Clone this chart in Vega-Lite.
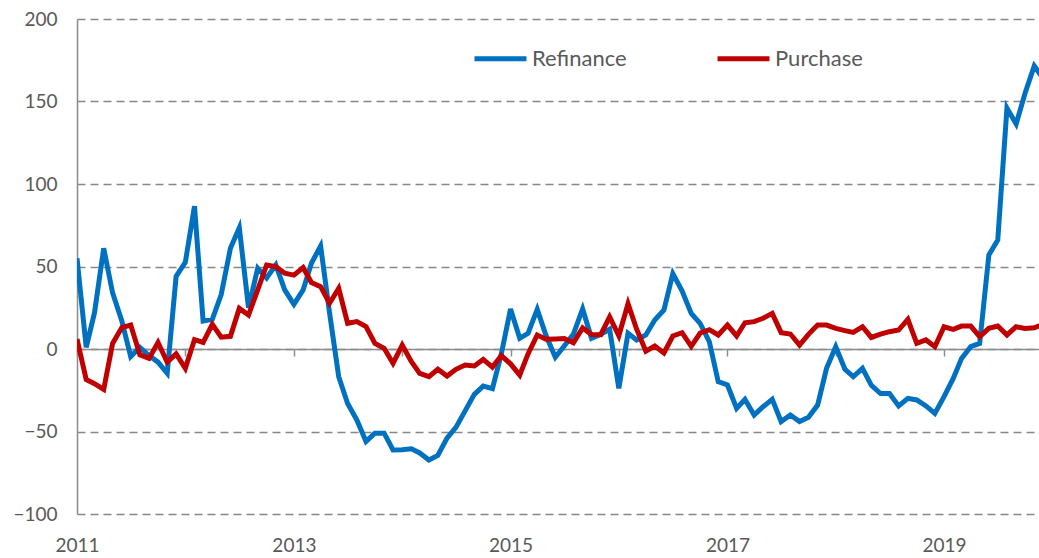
{
  "$schema": "https://vega.github.io/schema/vega-lite/v6.json",
  "width": 962,
  "height": 495,
  "autosize": {"type": "none"},
  "padding": {"left": 77, "top": 19, "right": 0, "bottom": 44},
  "background": "white",
  "config": {"view": {"stroke": null}, "font": "Lato"},
  "data": {"values": [
    {"date": "2011-01-01", "Refinance": 55, "Purchase": 6},
    {"date": "2011-02-01", "Refinance": 1, "Purchase": -18.5},
    {"date": "2011-03-01", "Refinance": 22, "Purchase": -21},
    {"date": "2011-04-01", "Refinance": 61, "Purchase": -24.5},
    {"date": "2011-05-01", "Refinance": 34, "Purchase": 3.4},
    {"date": "2011-06-01", "Refinance": 17, "Purchase": 13},
    {"date": "2011-07-01", "Refinance": -4.6, "Purchase": 14.5},
    {"date": "2011-08-01", "Refinance": 1, "Purchase": -3.6},
    {"date": "2011-09-01", "Refinance": -4, "Purchase": -5.7},
    {"date": "2011-10-01", "Refinance": -8, "Purchase": 4},
    {"date": "2011-11-01", "Refinance": -14.7, "Purchase": -8},
    {"date": "2011-12-01", "Refinance": 44, "Purchase": -3},
    {"date": "2012-01-01", "Refinance": 52.5, "Purchase": -11.7},
    {"date": "2012-02-01", "Refinance": 86.5, "Purchase": 5.7},
    {"date": "2012-03-01", "Refinance": 17, "Purchase": 4},
    {"date": "2012-04-01", "Refinance": 18, "Purchase": 15},
    {"date": "2012-05-01", "Refinance": 33, "Purchase": 7.2},
    {"date": "2012-06-01", "Refinance": 61, "Purchase": 7.7},
    {"date": "2012-07-01", "Refinance": 73.5, "Purchase": 24.6},
    {"date": "2012-08-01", "Refinance": 25, "Purchase": 20.6},
    {"date": "2012-09-01", "Refinance": 49, "Purchase": 35.8},
    {"date": "2012-10-01", "Refinance": 43, "Purchase": 50.9},
    {"date": "2012-11-01", "Refinance": 51, "Purchase": 49.9},
    {"date": "2012-12-01", "Refinance": 35.8, "Purchase": 45.9},
    {"date": "2013-01-01", "Refinance": 27, "Purchase": 44.8},
    {"date": "2013-02-01", "Refinance": 35.8, "Purchase": 49.4},
    {"date": "2013-03-01", "Refinance": 52, "Purchase": 40.3},
    {"date": "2013-04-01", "Refinance": 62.4, "Purchase": 37.8},
    {"date": "2013-05-01", "Refinance": 22, "Purchase": 27.7},
    {"date": "2013-06-01", "Refinance": -16.8, "Purchase": 36.8},
    {"date": "2013-07-01", "Refinance": -33, "Purchase": 15.6},
    {"date": "2013-08-01", "Refinance": -43, "Purchase": 16.6},
    {"date": "2013-09-01", "Refinance": -56, "Purchase": 13.6},
    {"date": "2013-10-01", "Refinance": -51, "Purchase": 3.4},
    {"date": "2013-11-01", "Refinance": -51, "Purchase": 0.4},
    {"date": "2013-12-01", "Refinance": -61.2, "Purchase": -8.7},
    {"date": "2014-01-01", "Refinance": -61, "Purchase": 2.4},
    {"date": "2014-02-01", "Refinance": -60.5, "Purchase": -7.7},
    {"date": "2014-03-01", "Refinance": -63, "Purchase": -14.8},
    {"date": "2014-04-01", "Refinance": -67.3, "Purchase": -16.8},
    {"date": "2014-05-01", "Refinance": -64.5, "Purchase": -12.3},
    {"date": "2014-06-01", "Refinance": -54, "Purchase": -16.4},
    {"date": "2014-07-01", "Refinance": -47.5, "Purchase": -12.3},
    {"date": "2014-08-01", "Refinance": -37.5, "Purchase": -9.7},
    {"date": "2014-09-01", "Refinance": -27.5, "Purchase": -10.3},
    {"date": "2014-10-01", "Refinance": -22.5, "Purchase": -6.3},
    {"date": "2014-11-01", "Refinance": -24, "Purchase": -11},
    {"date": "2014-12-01", "Refinance": -3, "Purchase": -4},
    {"date": "2015-01-01", "Refinance": 24.3, "Purchase": -9},
    {"date": "2015-02-01", "Refinance": 6.5, "Purchase": -15.8},
    {"date": "2015-03-01", "Refinance": 9.5, "Purchase": -3},
    {"date": "2015-04-01", "Refinance": 24, "Purchase": 8.5},
    {"date": "2015-05-01", "Refinance": 8, "Purchase": 5.9},
    {"date": "2015-06-01", "Refinance": -5, "Purchase": 6.1},
    {"date": "2015-07-01", "Refinance": 1.8, "Purchase": 6.4},
    {"date": "2015-08-01", "Refinance": 9, "Purchase": 3.8},
    {"date": "2015-09-01", "Refinance": 24.3, "Purchase": 12.8},
    {"date": "2015-10-01", "Refinance": 6.5, "Purchase": 8.8},
    {"date": "2015-11-01", "Refinance": 9, "Purchase": 8.7},
    {"date": "2015-12-01", "Refinance": 12, "Purchase": 19.4},
    {"date": "2016-01-01", "Refinance": -23.8, "Purchase": 8},
    {"date": "2016-02-01", "Refinance": 9.5, "Purchase": 27.5},
    {"date": "2016-03-01", "Refinance": 5.5, "Purchase": 12},
    {"date": "2016-04-01", "Refinance": 8.5, "Purchase": -1.3},
    {"date": "2016-05-01", "Refinance": 17.6, "Purchase": 1.8},
    {"date": "2016-06-01", "Refinance": 23.6, "Purchase": -2.4},
    {"date": "2016-07-01", "Refinance": 45.7, "Purchase": 7.9},
    {"date": "2016-08-01", "Refinance": 35.3, "Purchase": 9.9},
    {"date": "2016-09-01", "Refinance": 21.6, "Purchase": 1.6},
    {"date": "2016-10-01", "Refinance": 15.5, "Purchase": 9.7},
    {"date": "2016-11-01", "Refinance": 4.4, "Purchase": 11.7},
    {"date": "2016-12-01", "Refinance": -19.8, "Purchase": 8.5},
    {"date": "2017-01-01", "Refinance": -21.8, "Purchase": 14.5},
    {"date": "2017-02-01", "Refinance": -36, "Purchase": 7.9},
    {"date": "2017-03-01", "Refinance": -30.5, "Purchase": 15.9},
    {"date": "2017-04-01", "Refinance": -40, "Purchase": 16.6},
    {"date": "2017-05-01", "Refinance": -35, "Purchase": 18.6},
    {"date": "2017-06-01", "Refinance": -30.5, "Purchase": 21.6},
    {"date": "2017-07-01", "Refinance": -44, "Purchase": 9.9},
    {"date": "2017-08-01", "Refinance": -40, "Purchase": 9.1},
    {"date": "2017-09-01", "Refinance": -44, "Purchase": 2.4},
    {"date": "2017-10-01", "Refinance": -41.4, "Purchase": 8.9},
    {"date": "2017-11-01", "Refinance": -34, "Purchase": 14.5},
    {"date": "2017-12-01", "Refinance": -11.7, "Purchase": 14.5},
    {"date": "2018-01-01", "Refinance": 1.4, "Purchase": 12.5},
    {"date": "2018-02-01", "Refinance": -12.3, "Purchase": 11.1},
    {"date": "2018-03-01", "Refinance": -16.8, "Purchase": 10.1},
    {"date": "2018-04-01", "Refinance": -11.7, "Purchase": 13.5},
    {"date": "2018-05-01", "Refinance": -22, "Purchase": 7},
    {"date": "2018-06-01", "Refinance": -27, "Purchase": 9},
    {"date": "2018-07-01", "Refinance": -27, "Purchase": 10.5},
    {"date": "2018-08-01", "Refinance": -34.5, "Purchase": 11.5},
    {"date": "2018-09-01", "Refinance": -29.9, "Purchase": 18},
    {"date": "2018-10-01", "Refinance": -30.9, "Purchase": 3.4},
    {"date": "2018-11-01", "Refinance": -34.5, "Purchase": 5.5},
    {"date": "2018-12-01", "Refinance": -39, "Purchase": 1.4},
    {"date": "2019-01-01", "Refinance": -28.9, "Purchase": 13.5},
    {"date": "2019-02-01", "Refinance": -17.8, "Purchase": 11.9},
    {"date": "2019-03-01", "Refinance": -5.7, "Purchase": 13.9},
    {"date": "2019-04-01", "Refinance": 1.4, "Purchase": 13.9},
    {"date": "2019-05-01", "Refinance": 3.4, "Purchase": 7.5},
    {"date": "2019-06-01", "Refinance": 57, "Purchase": 12.5},
    {"date": "2019-07-01", "Refinance": 66, "Purchase": 13.9},
    {"date": "2019-08-01", "Refinance": 146, "Purchase": 8.5},
    {"date": "2019-09-01", "Refinance": 136.4, "Purchase": 13.5},
    {"date": "2019-10-01", "Refinance": 155, "Purchase": 12.5},
    {"date": "2019-11-01", "Refinance": 171.5, "Purchase": 12.9},
    {"date": "2019-12-01", "Refinance": 164, "Purchase": 15}
  ]},
  "transform": [{"fold": ["Refinance", "Purchase"], "as": ["series", "value"]}],
  "mark": {"type": "line", "strokeWidth": 5, "clip": true},
  "encoding": {
    "x": {
      "field": "date",
      "type": "temporal",
      "scale": {
        "type": "utc",
        "domain": [
          {"year": 2011, "month": 1, "date": 1, "utc": true},
          {"year": 2019, "month": 11, "date": 17, "utc": true}
        ]
      },
      "axis": {
        "title": null,
        "orient": "bottom",
        "offset": -165,
        "format": "%Y",
        "tickCount": {"interval": "year", "step": 1},
        "labelExpr": "utcyear(datum.value) % 2 == 1 ? datum.label : ''",
        "grid": false,
        "domainColor": "#8c8c8c",
        "domainWidth": 1.5,
        "tickColor": "#8c8c8c",
        "tickWidth": 1.5,
        "tickSize": 7,
        "labelPadding": 180,
        "labelFontSize": 19,
        "labelColor": "#595959",
        "labelFlush": false,
        "labelOverlap": false
      }
    },
    "y": {
      "field": "value",
      "type": "quantitative",
      "scale": {"domain": [-100, 200], "nice": false, "zero": false},
      "axis": {
        "title": null,
        "values": [-100, -50, 0, 50, 100, 150, 200],
        "grid": true,
        "gridDash": [8, 5],
        "gridColor": "#878787",
        "gridWidth": 1.3,
        "ticks": false,
        "domainColor": "#8c8c8c",
        "domainWidth": 1.5,
        "labelFontSize": 19,
        "labelColor": "#595959",
        "labelPadding": 20
      }
    },
    "color": {
      "field": "series",
      "type": "nominal",
      "scale": {"domain": ["Refinance", "Purchase"], "range": ["#0070C0", "#C00000"]},
      "legend": {
        "title": null,
        "orient": "none",
        "legendX": 395,
        "legendY": 11,
        "direction": "horizontal",
        "padding": 0,
        "symbolType": "stroke",
        "symbolStrokeWidth": 5,
        "symbolSize": 2700,
        "labelFontSize": 22,
        "labelColor": "#595959",
        "labelOffset": 3,
        "columnPadding": 80
      }
    }
  }
}
